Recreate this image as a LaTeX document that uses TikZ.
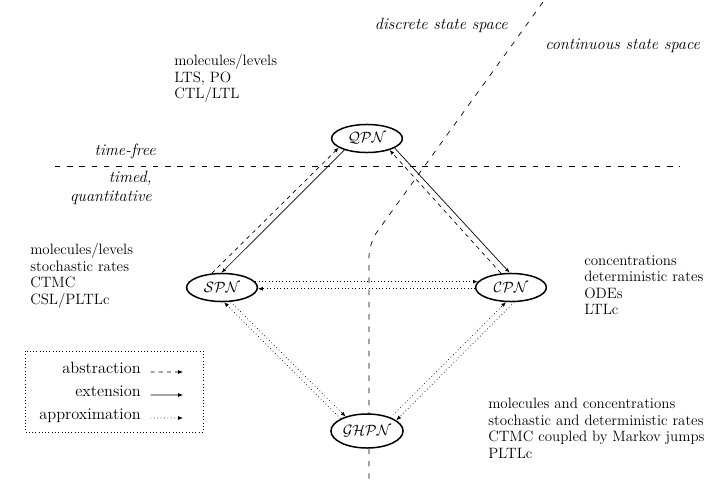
\documentclass[tikz,border=0pt]{standalone}
\usepackage{amsmath,amssymb}
\usepackage{tikz}
\usetikzlibrary{arrows.meta,shapes.geometric}

\begin{document}
\begin{tikzpicture}[x=0.735pt, y=-0.735pt,
    net/.style={draw, line width=1.1pt, ellipse, fill=white, inner sep=0pt, minimum width=52pt, minimum height=20.6pt, font=\fontsize{11}{13}\selectfont},
    abstr/.style={-{Latex[length=3.5pt,width=2.8pt]}, line width=0.5pt, dashed},
    exten/.style={-{Latex[length=3.5pt,width=2.8pt]}, line width=0.5pt},
    approx/.style={-{Latex[length=3.5pt,width=2.8pt]}, line width=0.5pt, dotted},
    border/.style={line width=0.5pt, dash pattern=on 4pt off 5pt},
    info/.style={align=left, anchor=north west, inner sep=0pt, font=\fontsize{11}{12.2}\selectfont},
    region/.style={font=\large\itshape, inner sep=0pt},
    legtext/.style={anchor=east, inner sep=0pt, font=\large, text height=1.6ex, text depth=.3ex}]

\useasboundingbox (0,0) rectangle (727,488);

% Borders between the regions
\draw[border] (55,166) -- (680,166);
\draw[border, rounded corners=10pt] (543,2) -- (369,243) -- (369,482);

\node[region, anchor=east] (discrete) at (508,25) {discrete state space};
\node[region, anchor=west] (continuous) at (545,46) {continuous state space};
\node[region, anchor=east] (timefree) at (156,151) {time-free};
\node[region, align=right, anchor=north east] (timed) at (152,171) {timed,\\ quantitative};

% The four nets
\node[net] (QPN) at (367,138.5) {$\mathcal{QPN}$};
\node[net] (SPN) at (222,287.5) {$\mathcal{SPN}$};
\node[net] (CPN) at (511,287.5) {$\mathcal{CPN}$};
\node[net, minimum width=53pt, minimum height=25pt] (GHPN) at (367,431) {$\mathcal{GHPN}$};

% Descriptions
\node[info] (infoQ) at (174,54) {molecules/levels\\ LTS, PO\\ CTL/LTL};
\node[info] (infoS) at (30,243) {molecules/levels\\ stochastic rates\\ CTMC\\ CSL/PLTLc};
\node[info] (infoC) at (584,255) {concentrations\\ deterministic rates\\ ODEs\\ LTLc};
\node[info] (infoG) at (488,398) {molecules and concentrations\\ stochastic and deterministic rates\\ CTMC coupled by Markov jumps\\ PLTLc};

% QPN <-> SPN, QPN <-> CPN
\draw[exten] (QPN.207) -- (SPN.92);
\draw[abstr] (SPN.126) -- (QPN.198);
\draw[exten] (QPN.341) -- (CPN.95);
\draw[abstr] (CPN.125) -- (QPN.333);

% SPN <-> CPN
\draw[approx] (SPN.10) -- (CPN.170);
\draw[approx] (CPN.182) -- (SPN.358);

% SPN, CPN <-> GHPN
\draw[approx] (GHPN.155) -- (SPN.278);
\draw[approx] (SPN.301) -- (GHPN.146);
\draw[approx] (GHPN.30) -- (CPN.251);
\draw[approx] (CPN.282) -- (GHPN.20);

% Legend
\draw[dotted] (25,351) rectangle (203,432);
\node[legtext] (labAbs) at (141,370) {abstraction};
\node[legtext] (labExt) at (141,393) {extension};
\node[legtext] (labApp) at (141,416) {approximation};
\coordinate (endAbs) at (183,372);
\coordinate (endExt) at (183,395);
\coordinate (endApp) at (183,418);
\draw[abstr] ([xshift=7pt,yshift=-1.5pt]labAbs.east) -- (endAbs);
\draw[exten] ([xshift=7pt,yshift=-1.5pt]labExt.east) -- (endExt);
\draw[approx] ([xshift=7pt,yshift=-1.5pt]labApp.east) -- (endApp);

\end{tikzpicture}
\end{document}
